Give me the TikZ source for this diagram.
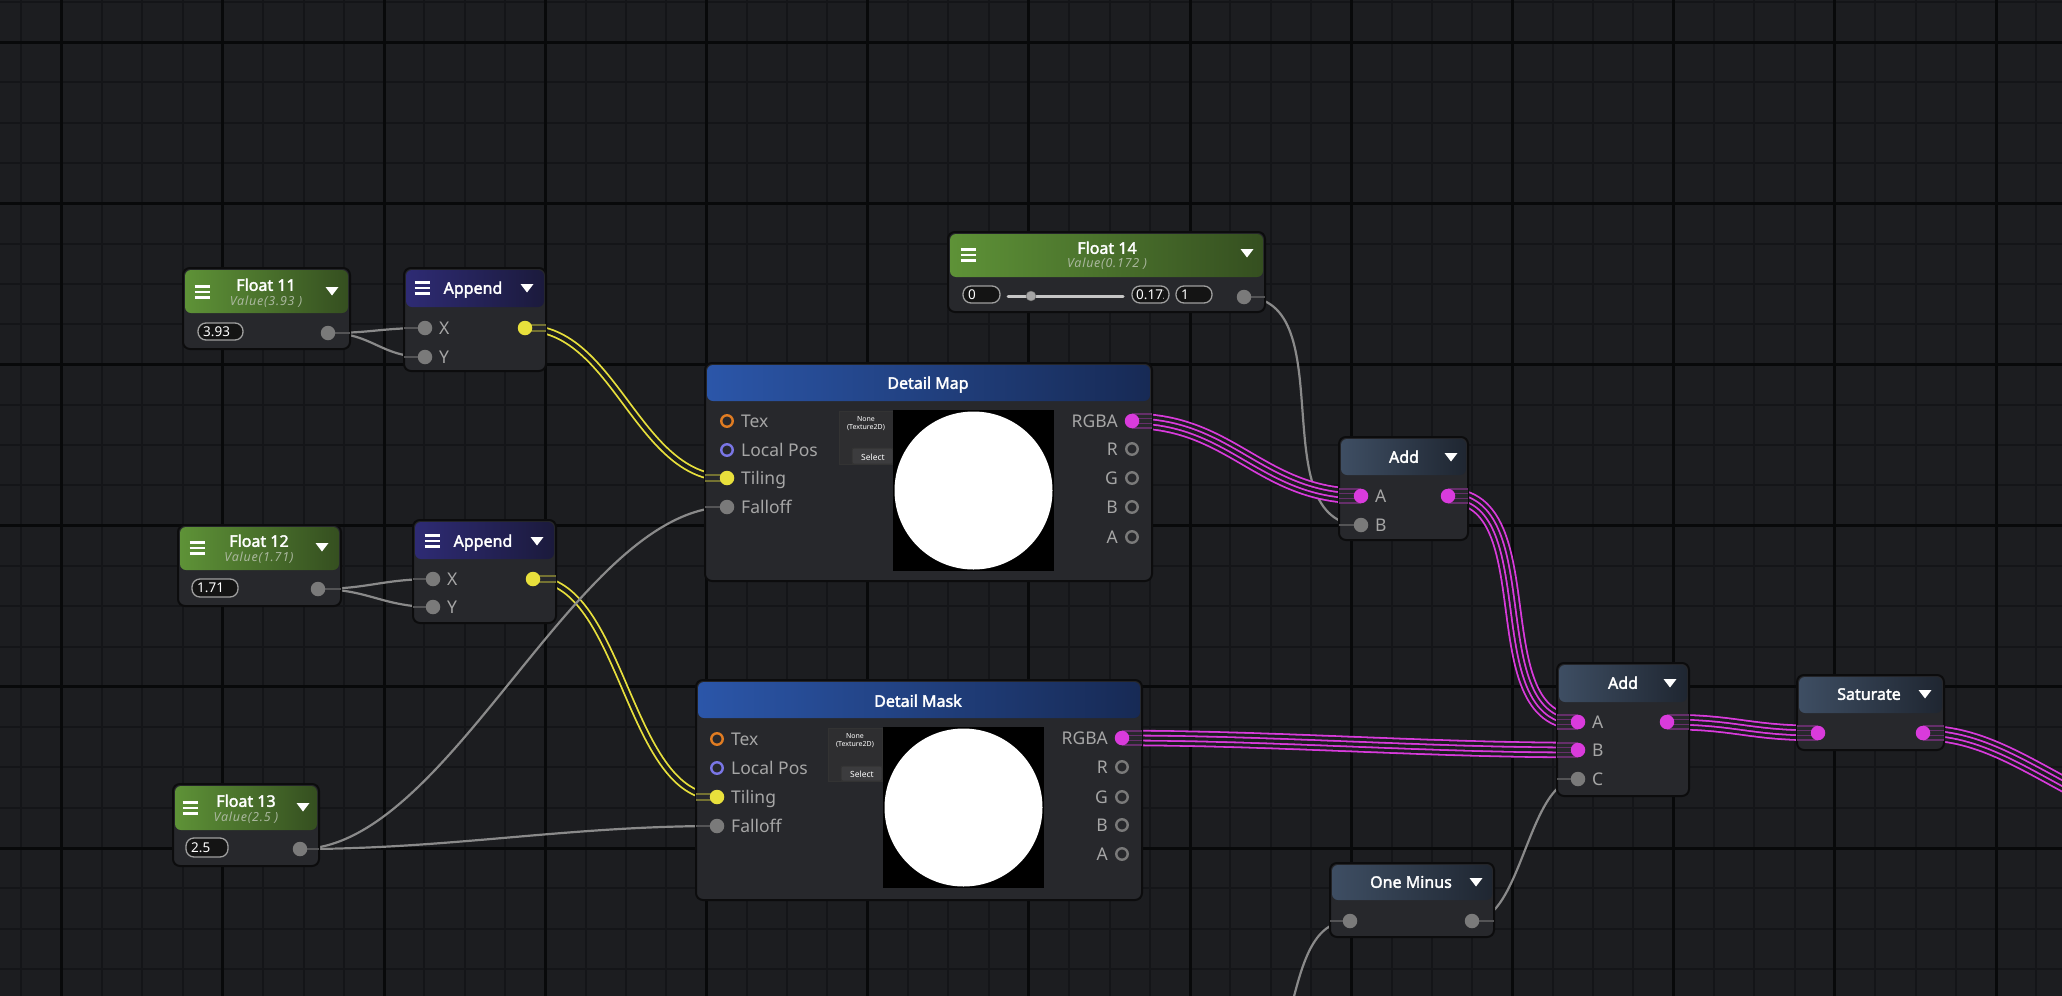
\documentclass[tikz,border=0pt]{standalone}
\usepackage{fontspec}
\setmainfont{Noto Sans}[AutoFakeBold=2.2]
\usetikzlibrary{fit}
\pgfdeclarelayer{bg}\pgfdeclarelayer{wirelayer}\pgfdeclarelayer{stubs}\pgfdeclarelayer{ports}
\pgfsetlayers{bg,wirelayer,main,stubs,ports}
\definecolor{bgc}{HTML}{1C1D20}
\definecolor{minorc}{HTML}{141518}
\definecolor{majorc}{HTML}{08090A}
\definecolor{bodyc}{HTML}{27282C}
\definecolor{borderc}{HTML}{0C0C0D}
\definecolor{portgray}{HTML}{7A7A7A}
\definecolor{labelc}{HTML}{A6A6A6}
\definecolor{yelc}{HTML}{E8E03C}
\definecolor{magc}{HTML}{D93BDC}
\definecolor{orc}{HTML}{E07C22}
\definecolor{bluc}{HTML}{7A76E6}
\definecolor{wiregray}{HTML}{8A8A8A}
\definecolor{fgreenL}{HTML}{5E9237}
\definecolor{fgreenR}{HTML}{354F20}
\definecolor{apL}{HTML}{2E2B74}
\definecolor{apR}{HTML}{1B1A3C}
\definecolor{texL}{HTML}{2B56A9}
\definecolor{texR}{HTML}{172A55}
\definecolor{opL}{HTML}{3E4E63}
\definecolor{opR}{HTML}{1F2631}
\definecolor{subc}{HTML}{A9B79D}
\definecolor{texbox}{HTML}{2E2E30}
\definecolor{selbtn}{HTML}{3C3C3E}
\tikzset{
 nodebody/.style={draw=borderc, line width=2, fill=bodyc, rounded corners=7, inner sep=0, outer sep=0},
 ttl/.style={text=white, font=\fontsize{16}{18}\selectfont\bfseries, inner sep=0, anchor=base, yshift=-5.8pt},
 subt/.style={text=subc, font=\fontsize{12.5}{14}\selectfont\itshape\addfontfeatures{LetterSpace=6}, inner sep=0, anchor=base, yshift=-4.4pt},
 plw/.style={text=labelc, font=\fontsize{17.5}{19}\selectfont, inner sep=0, anchor=base west, yshift=-6.2pt},
 ple/.style={text=labelc, font=\fontsize{17.5}{19}\selectfont, inner sep=0, anchor=base east, yshift=-6.2pt},
 pfill/.style={circle, fill=#1, minimum size=14.5, inner sep=0},
 pring/.style={circle, draw=#1, line width=2.4, fill=bodyc, minimum size=11.5, inner sep=0},
 field/.style={draw=gray!75, line width=1.3, fill=black!92, rounded corners=8},
 fieldtxt/.style={text=white!92, font=\fontsize{13.5}{15}\selectfont, inner sep=0, anchor=base west, yshift=-4.8pt},
 tinytxt/.style={text=white!70, font=\fontsize{7}{8}\selectfont, inner sep=0},
 graywire/.style={draw=wiregray, line width=2.2},
 graystub/.style={draw=wiregray!45!bodyc, line width=2.2},
 yelwire/.style={draw=yelc, line width=1.8, double=bgc, double distance=4},
 yelstub/.style={draw=yelc!40!bodyc, line width=1.8, double=bodyc, double distance=4},
 quad/.style 2 args={draw=#1, line width=16.4, postaction={draw=#2, line width=12.8}, postaction={draw=#1, line width=6.8}, postaction={draw=#2, line width=3.2}},
 magwire/.style={quad={magc}{bgc}},
 magstub/.style={quad={magc!35!bodyc}{bodyc}},
}
\newcommand\uinode[8]{%
  \node[nodebody, fit={(#2,#3) (#4,#5)}] (#1) {};
  \shade[left color=#7, right color=#8, rounded corners=6] ({#2+2},{#3+2}) rectangle ({#4-2},{#6});
}
\newcommand\hamb[2]{\foreach \dy in {-5.5,0,5.5}{\draw[white, line width=2.3] ({#1-7.5},{#2+\dy}) -- ++(15,0);}}
\newcommand\ddtri[2]{\fill[white] ({#1-6.5},{#2-4}) -- ({#1+6.5},{#2-4}) -- (#1,{#2+4.5}) -- cycle;}
\begin{document}
\begin{tikzpicture}[x=1pt,y=-1pt]
\useasboundingbox (0,0) rectangle (2062,996);
% ---------- background grid
\begin{pgfonlayer}{bg}
\fill[bgc] (0,0) rectangle (2062,996);
\foreach \i in {0,...,51} \draw[minorc, line width=2] ({21.4+40.3*\i},0) -- ++(0,996);
\foreach \i in {0,...,24} \draw[minorc, line width=2] (0,{1.7+40.3*\i}) -- ++(2062,0);
\foreach \i in {0,...,12} \draw[majorc, line width=3] ({61.7+161.2*\i},0) -- ++(0,996);
\foreach \i in {0,...,6} \draw[majorc, line width=3] (0,{42+161.2*\i}) -- ++(2062,0);
\end{pgfonlayer}
% ---------- node bodies
\uinode{f11}{183}{268}{350}{349}{313}{fgreenL}{fgreenR}
\uinode{a1}{404}{268}{546}{371}{307}{apL}{apR}
\uinode{f12}{178}{525}{341}{606}{570}{fgreenL}{fgreenR}
\uinode{a2}{413}{520}{556}{623}{559}{apL}{apR}
\uinode{f13}{173}{784}{319}{866}{830}{fgreenL}{fgreenR}
\uinode{f14}{948}{232}{1265}{312}{277}{fgreenL}{fgreenR}
\uinode{dm}{705}{363}{1152}{581}{401}{texL}{texR}
\uinode{dk}{696}{680}{1142}{900}{718}{texL}{texR}
\uinode{ad1}{1339}{437}{1468}{540}{475}{opL}{opR}
\uinode{ad2}{1557}{663}{1689}{796}{702}{opL}{opR}
\uinode{sat}{1797}{675}{1944}{750}{713}{opL}{opR}
\uinode{om}{1330}{863}{1494}{937}{900}{opL}{opR}
% ---------- headers
\node[ttl] (f11t) at (266,285) {Float 11};
\node[subt] (f11s) at (266,301) {Value(3.93 )};
\hamb{202}{292}\ddtri{332}{291}
\node[ttl] (a1t) at (473,288) {Append};
\hamb{422}{288}\ddtri{527}{288}
\node[ttl] (f12t) at (259,541) {Float 12};
\node[subt] (f12s) at (259,557) {Value(1.71)};
\hamb{197}{548}\ddtri{322}{547}
\node[ttl] (a2t) at (483,541) {Append};
\hamb{432}{541}\ddtri{537}{541}
\node[ttl] (f13t) at (246,801) {Float 13};
\node[subt] (f13s) at (246,817) {Value(2.5 )};
\hamb{190}{808}\ddtri{303}{807}
\node[ttl] (f14t) at (1107,248) {Float 14};
\node[subt] (f14s) at (1107,263) {Value(0.172 )};
\hamb{968}{255}\ddtri{1247}{253}
\node[ttl] (dmt) at (928,383) {Detail Map};
\node[ttl] (dkt) at (918,701) {Detail Mask};
\node[ttl] (ad1t) at (1404,457) {Add};\ddtri{1451}{457}
\node[ttl] (ad2t) at (1623,683) {Add};\ddtri{1670}{683}
\node[ttl] (satt) at (1869,694) {Saturate};\ddtri{1925}{694}
\node[ttl] (omt) at (1411,882) {One Minus};\ddtri{1476}{882}
% ---------- value fields
\draw[field] (198,323) rectangle (243,340); \node[fieldtxt] (f11v) at (203,331.5) {3.93};
\draw[field] (192,579) rectangle (238,597); \node[fieldtxt] (f12v) at (197,588) {1.71};
\draw[field] (186,838) rectangle (228,857); \node[fieldtxt] (f13v) at (191,847.5) {2.5};
\draw[field] (963,286) rectangle (1000,303); \node[fieldtxt] (f14a) at (968,294.5) {0};
\draw[gray!45, line width=3, line cap=round] (1008,296) -- (1123,296);
\fill[gray!70, draw=black!60] (1031,296) circle (5);
\begin{scope}
\draw[field] (1132,286) rectangle (1169,303);
\clip (1133,287) rectangle (1163,302);
\node[fieldtxt] (f14b) at (1136,294.5) {0.172};
\end{scope}
\draw[field] (1176,286) rectangle (1212,303); \node[fieldtxt] (f14c) at (1181,294.5) {1};
% ---------- texture pickers and previews
\draw[fill=texbox, draw=black!80, line width=1] (839,411) rectangle (893,464);
\node[tinytxt] (dmn1) at (866,419) {None};
\node[tinytxt] (dmn2) at (866,428) {(Texture2D)};
\draw[fill=selbtn, draw=black!80, line width=1, rounded corners=2] (852,448) rectangle (893,464);
\node[tinytxt, font=\fontsize{8.5}{9}\selectfont] (dmsel) at (873,457) {Select};
\fill[black] (893,410) rectangle (1054,571);
\fill[white] (973.5,490.5) circle (79);
\draw[fill=texbox, draw=black!80, line width=1] (828,728) rectangle (882,781);
\node[tinytxt] (dkn1) at (855,736) {None};
\node[tinytxt] (dkn2) at (855,745) {(Texture2D)};
\draw[fill=selbtn, draw=black!80, line width=1, rounded corners=2] (841,766) rectangle (882,781);
\node[tinytxt, font=\fontsize{8.5}{9}\selectfont] (dksel) at (862,774.5) {Select};
\fill[black] (883,727) rectangle (1044,888);
\fill[white] (963.5,807.5) circle (79);
% ---------- port labels
\node[plw] at (439,328) {X}; \node[plw] at (439,357) {Y};
\node[plw] at (447,579) {X}; \node[plw] at (447,607) {Y};
\node[plw] at (741,421) {Tex}; \node[plw] at (741,450) {Local Pos};
\node[plw] at (741,478) {Tiling}; \node[plw] at (741,507) {Falloff};
\node[ple] at (1118,421) {RGBA}; \node[ple] at (1118,449) {R};
\node[ple] at (1118,478) {G}; \node[ple] at (1118,507) {B}; \node[ple] at (1118,537) {A};
\node[plw] at (731,739) {Tex}; \node[plw] at (731,768) {Local Pos};
\node[plw] at (731,797) {Tiling}; \node[plw] at (731,826) {Falloff};
\node[ple] at (1108,738) {RGBA}; \node[ple] at (1108,767) {R};
\node[ple] at (1108,797) {G}; \node[ple] at (1108,825) {B}; \node[ple] at (1108,854) {A};
\node[plw] at (1375,496) {A}; \node[plw] at (1375,525) {B};
\node[plw] at (1592,722) {A}; \node[plw] at (1592,750) {B}; \node[plw] at (1592,779) {C};
% ---------- ports
\begin{pgfonlayer}{ports}
\node[pfill=portgray] (f11o) at (328,333) {};
\node[pfill=portgray] (a1x) at (425,328) {};
\node[pfill=portgray] (a1y) at (425,357) {};
\node[pfill=yelc] (a1o) at (525,328) {};
\node[pfill=portgray] (f12o) at (318,589) {};
\node[pfill=portgray] (a2x) at (433,579) {};
\node[pfill=portgray] (a2y) at (433,607) {};
\node[pfill=yelc] (a2o) at (533,579) {};
\node[pfill=portgray] (f13o) at (300,849) {};
\node[pfill=portgray] (f14o) at (1244,297) {};
\node[pring=orc] (dmtex) at (727,421) {};
\node[pring=bluc] (dmlp) at (727,450) {};
\node[pfill=yelc] (dmti) at (727,478) {};
\node[pfill=portgray] (dmfo) at (727,507) {};
\node[pfill=magc] (dmo) at (1132,421) {};
\node[pring=portgray] (dmr) at (1132,449) {};
\node[pring=portgray] (dmg) at (1132,478) {};
\node[pring=portgray] (dmb) at (1132,507) {};
\node[pring=portgray] (dma) at (1132,537) {};
\node[pring=orc] (dktex) at (717,739) {};
\node[pring=bluc] (dklp) at (717,768) {};
\node[pfill=yelc] (dkti) at (717,797) {};
\node[pfill=portgray] (dkfo) at (717,826) {};
\node[pfill=magc] (dko) at (1122,738) {};
\node[pring=portgray] (dkr) at (1122,767) {};
\node[pring=portgray] (dkg) at (1122,797) {};
\node[pring=portgray] (dkb) at (1122,825) {};
\node[pring=portgray] (dka) at (1122,854) {};
\node[pfill=magc] (ad1a) at (1361,496) {};
\node[pfill=portgray] (ad1b) at (1361,525) {};
\node[pfill=magc] (ad1o) at (1448,496) {};
\node[pfill=magc] (ad2a) at (1578,722) {};
\node[pfill=magc] (ad2b) at (1578,750) {};
\node[pfill=portgray] (ad2c) at (1578,779) {};
\node[pfill=magc] (ad2o) at (1667,722) {};
\node[pfill=magc] (sati) at (1818,733) {};
\node[pfill=magc] (sato) at (1923,733) {};
\node[pfill=portgray] (omi) at (1350,921) {};
\node[pfill=portgray] (omo) at (1472,921) {};
\end{pgfonlayer}
\coordinate (satend) at (2110,808);
\coordinate (omsrc) at (1290,1012);
% ---------- wires
\begin{pgfonlayer}{wirelayer}
\draw[graywire] (f11o.center) .. controls +(45,0) and +(-45,0) .. (a1x.center);
\draw[graywire] (f11o.center) .. controls +(45,0) and +(-45,0) .. (a1y.center);
\draw[graywire] (f12o.center) .. controls +(50,0) and +(-50,0) .. (a2x.center);
\draw[graywire] (f12o.center) .. controls +(50,0) and +(-50,0) .. (a2y.center);
\draw[yelwire] (a1o.center) .. controls +(90,0) and +(-90,0) .. (dmti.center);
\draw[yelwire] (a2o.center) .. controls +(90,0) and +(-90,0) .. (dkti.center);
\draw[graywire] (f13o.center) .. controls +(150,0) and +(-150,0) .. (dmfo.center);
\draw[graywire] (f13o.center) .. controls +(150,0) and +(-150,0) .. (dkfo.center);
\draw[graywire] (f14o.center) .. controls +(100,0) and +(-100,0) .. (ad1b.center);
\draw[magwire] (dmo.center) .. controls +(100,0) and +(-100,0) .. (ad1a.center);
\draw[magwire] (ad1o.center) .. controls +(100,0) and +(-100,0) .. (ad2a.center);
\draw[magwire] (dko.center) .. controls +(150,0) and +(-150,0) .. (ad2b.center);
\draw[magwire] (ad2o.center) .. controls +(70,0) and +(-70,0) .. (sati.center);
\draw[magwire] (sato.center) .. controls +(65,0) and (2035,772) .. (satend);
\draw[graywire] (omo.center) .. controls +(50,0) and +(-50,0) .. (ad2c.center);
\draw[graywire] (omsrc) .. controls (1302,965) and (1312,921) .. (omi.center);
\end{pgfonlayer}
% ---------- faded wire ends inside nodes
\begin{pgfonlayer}{stubs}
\draw[graystub] (f11o.center) -- (f11o.center -| f11.east);
\draw[graystub] (a1x.center) -- (a1x.center -| a1.west);
\draw[graystub] (a1y.center) -- (a1y.center -| a1.west);
\draw[graystub] (f12o.center) -- (f12o.center -| f12.east);
\draw[graystub] (a2x.center) -- (a2x.center -| a2.west);
\draw[graystub] (a2y.center) -- (a2y.center -| a2.west);
\draw[graystub] (f13o.center) -- (f13o.center -| f13.east);
\draw[graystub] (f14o.center) -- (f14o.center -| f14.east);
\draw[graystub] (dmfo.center) -- (dmfo.center -| dm.west);
\draw[graystub] (dkfo.center) -- (dkfo.center -| dk.west);
\draw[graystub] (ad1b.center) -- (ad1b.center -| ad1.west);
\draw[graystub] (ad2c.center) -- (ad2c.center -| ad2.west);
\draw[graystub] (omo.center) -- (omo.center -| om.east);
\draw[graystub] (omi.center) -- (omi.center -| om.west);
\draw[yelstub] (a1o.center) -- (a1o.center -| a1.east);
\draw[yelstub] (a2o.center) -- (a2o.center -| a2.east);
\draw[yelstub] (dmti.center) -- (dmti.center -| dm.west);
\draw[yelstub] (dkti.center) -- (dkti.center -| dk.west);
\draw[magstub] (dmo.center) -- (dmo.center -| dm.east);
\draw[magstub] (dko.center) -- (dko.center -| dk.east);
\draw[magstub] (ad1a.center) -- (ad1a.center -| ad1.west);
\draw[magstub] (ad1o.center) -- (ad1o.center -| ad1.east);
\draw[magstub] (ad2a.center) -- (ad2a.center -| ad2.west);
\draw[magstub] (ad2b.center) -- (ad2b.center -| ad2.west);
\draw[magstub] (ad2o.center) -- (ad2o.center -| ad2.east);
\draw[magstub] (sati.center) -- (sati.center -| sat.west);
\draw[magstub] (sato.center) -- (sato.center -| sat.east);
\end{pgfonlayer}
\end{tikzpicture}
\end{document}
